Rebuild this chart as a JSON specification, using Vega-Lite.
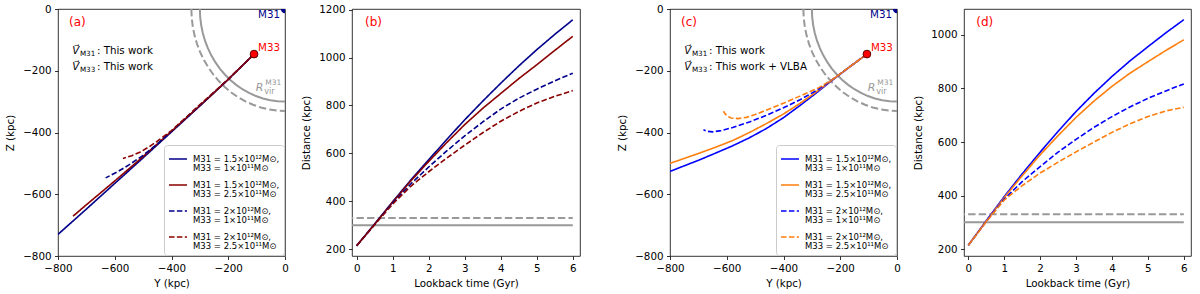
{
 "$schema": "https://vega.github.io/schema/vega-lite/v6.json",
 "padding": {"left": 5, "top": 3, "right": 2, "bottom": 2},
 "config": {
  "font": "DejaVu Sans",
  "view": {"stroke": "#000", "strokeWidth": 0.8},
  "axis": {"grid": false, "domain": false, "tickColor": "#000", "tickSize": 3.5, "tickWidth": 0.8, "labelFontSize": 10.3, "labelColor": "#000", "titleFontSize": 10.3, "titleFontWeight": "normal", "titleColor": "#000", "labelPadding": 3.5, "labelFont": "DejaVu Sans", "titleFont": "DejaVu Sans", "labelFlush": false, "labelOverlap": false, "format": "d"},
  "axisX": {"titlePadding": 5},
  "axisY": {"titlePadding": 7},
  "text": {"font": "DejaVu Sans"}
 },
 "datasets": {
  "circ": [
   {"R":300,"i":0,"Y":-300,"Z":0},{"R":300,"i":1,"Y":-298.9,"Z":-26.1},{"R":300,"i":2,"Y":-295.4,"Z":-52.1},{"R":300,"i":3,"Y":-289.8,"Z":-77.6},{"R":300,"i":4,"Y":-281.9,"Z":-102.6},{"R":300,"i":5,"Y":-271.9,"Z":-126.8},{"R":300,"i":6,"Y":-259.8,"Z":-150},{"R":300,"i":7,"Y":-245.7,"Z":-172.1},{"R":300,"i":8,"Y":-229.8,"Z":-192.8},{"R":300,"i":9,"Y":-212.1,"Z":-212.1},{"R":300,"i":10,"Y":-192.8,"Z":-229.8},{"R":300,"i":11,"Y":-172.1,"Z":-245.7},{"R":300,"i":12,"Y":-150,"Z":-259.8},{"R":300,"i":13,"Y":-126.8,"Z":-271.9},{"R":300,"i":14,"Y":-102.6,"Z":-281.9},{"R":300,"i":15,"Y":-77.6,"Z":-289.8},{"R":300,"i":16,"Y":-52.1,"Z":-295.4},{"R":300,"i":17,"Y":-26.1,"Z":-298.9},{"R":300,"i":18,"Y":0,"Z":-300},
   {"R":330,"i":0,"Y":-330,"Z":0},{"R":330,"i":1,"Y":-328.7,"Z":-28.8},{"R":330,"i":2,"Y":-325,"Z":-57.3},{"R":330,"i":3,"Y":-318.8,"Z":-85.4},{"R":330,"i":4,"Y":-310.1,"Z":-112.9},{"R":330,"i":5,"Y":-299.1,"Z":-139.5},{"R":330,"i":6,"Y":-285.8,"Z":-165},{"R":330,"i":7,"Y":-270.3,"Z":-189.3},{"R":330,"i":8,"Y":-252.8,"Z":-212.1},{"R":330,"i":9,"Y":-233.3,"Z":-233.3},{"R":330,"i":10,"Y":-212.1,"Z":-252.8},{"R":330,"i":11,"Y":-189.3,"Z":-270.3},{"R":330,"i":12,"Y":-165,"Z":-285.8},{"R":330,"i":13,"Y":-139.5,"Z":-299.1},{"R":330,"i":14,"Y":-112.9,"Z":-310.1},{"R":330,"i":15,"Y":-85.4,"Z":-318.8},{"R":330,"i":16,"Y":-57.3,"Z":-325},{"R":330,"i":17,"Y":-28.8,"Z":-328.7},{"R":330,"i":18,"Y":0,"Z":-330}
  ],
  "trajA": [
   {"s":"s1","i":0,"Y":-109,"Z":-146},{"s":"s1","i":1,"Y":-150,"Z":-183},{"s":"s1","i":2,"Y":-200,"Z":-228},{"s":"s1","i":3,"Y":-250,"Z":-271},{"s":"s1","i":4,"Y":-300,"Z":-314},{"s":"s1","i":5,"Y":-400,"Z":-398},{"s":"s1","i":6,"Y":-500,"Z":-482},{"s":"s1","i":7,"Y":-600,"Z":-565},{"s":"s1","i":8,"Y":-700,"Z":-648},{"s":"s1","i":9,"Y":-800,"Z":-730},
   {"s":"s2","i":0,"Y":-109,"Z":-146},{"s":"s2","i":1,"Y":-150,"Z":-183},{"s":"s2","i":2,"Y":-200,"Z":-228},{"s":"s2","i":3,"Y":-250,"Z":-271},{"s":"s2","i":4,"Y":-300,"Z":-313},{"s":"s2","i":5,"Y":-400,"Z":-396},{"s":"s2","i":6,"Y":-500,"Z":-478},{"s":"s2","i":7,"Y":-600,"Z":-557},{"s":"s2","i":8,"Y":-700,"Z":-634},{"s":"s2","i":9,"Y":-747,"Z":-671},
   {"s":"s3","i":0,"Y":-109,"Z":-146},{"s":"s3","i":1,"Y":-150,"Z":-183},{"s":"s3","i":2,"Y":-200,"Z":-228},{"s":"s3","i":3,"Y":-250,"Z":-270},{"s":"s3","i":4,"Y":-300,"Z":-312},{"s":"s3","i":5,"Y":-400,"Z":-396},{"s":"s3","i":6,"Y":-450,"Z":-437},{"s":"s3","i":7,"Y":-500,"Z":-474},{"s":"s3","i":8,"Y":-550,"Z":-505},{"s":"s3","i":9,"Y":-590,"Z":-527},{"s":"s3","i":10,"Y":-632,"Z":-547},
   {"s":"s4","i":0,"Y":-109,"Z":-146},{"s":"s4","i":1,"Y":-150,"Z":-183},{"s":"s4","i":2,"Y":-200,"Z":-227},{"s":"s4","i":3,"Y":-250,"Z":-269},{"s":"s4","i":4,"Y":-300,"Z":-310},{"s":"s4","i":5,"Y":-350,"Z":-352},{"s":"s4","i":6,"Y":-400,"Z":-394},{"s":"s4","i":7,"Y":-450,"Z":-428},{"s":"s4","i":8,"Y":-480,"Z":-447},{"s":"s4","i":9,"Y":-510,"Z":-463},{"s":"s4","i":10,"Y":-540,"Z":-475},{"s":"s4","i":11,"Y":-571,"Z":-484}
  ],
  "trajC": [
   {"s":"s1","i":0,"Y":-106,"Z":-146},{"s":"s1","i":1,"Y":-170,"Z":-190},{"s":"s1","i":2,"Y":-227,"Z":-230},{"s":"s1","i":3,"Y":-290,"Z":-276},{"s":"s1","i":4,"Y":-344,"Z":-314},{"s":"s1","i":5,"Y":-400,"Z":-352},{"s":"s1","i":6,"Y":-462,"Z":-388},{"s":"s1","i":7,"Y":-520,"Z":-417},{"s":"s1","i":8,"Y":-579,"Z":-443},{"s":"s1","i":9,"Y":-640,"Z":-467},{"s":"s1","i":10,"Y":-697,"Z":-489},{"s":"s1","i":11,"Y":-750,"Z":-508},{"s":"s1","i":12,"Y":-800,"Z":-526},
   {"s":"s2","i":0,"Y":-106,"Z":-146},{"s":"s2","i":1,"Y":-170,"Z":-190},{"s":"s2","i":2,"Y":-227,"Z":-229},{"s":"s2","i":3,"Y":-290,"Z":-272},{"s":"s2","i":4,"Y":-344,"Z":-307},{"s":"s2","i":5,"Y":-400,"Z":-340},{"s":"s2","i":6,"Y":-462,"Z":-372},{"s":"s2","i":7,"Y":-520,"Z":-400},{"s":"s2","i":8,"Y":-579,"Z":-426},{"s":"s2","i":9,"Y":-640,"Z":-448},{"s":"s2","i":10,"Y":-697,"Z":-467},{"s":"s2","i":11,"Y":-750,"Z":-484},{"s":"s2","i":12,"Y":-800,"Z":-500},
   {"s":"s3","i":0,"Y":-106,"Z":-146},{"s":"s3","i":1,"Y":-170,"Z":-189},{"s":"s3","i":2,"Y":-227,"Z":-228},{"s":"s3","i":3,"Y":-280,"Z":-262},{"s":"s3","i":4,"Y":-344,"Z":-295},{"s":"s3","i":5,"Y":-400,"Z":-320},{"s":"s3","i":6,"Y":-462,"Z":-345},{"s":"s3","i":7,"Y":-520,"Z":-366},{"s":"s3","i":8,"Y":-579,"Z":-384},{"s":"s3","i":9,"Y":-620,"Z":-394},{"s":"s3","i":10,"Y":-650,"Z":-398},{"s":"s3","i":11,"Y":-670,"Z":-396},{"s":"s3","i":12,"Y":-682,"Z":-391},
   {"s":"s4","i":0,"Y":-106,"Z":-146},{"s":"s4","i":1,"Y":-170,"Z":-189},{"s":"s4","i":2,"Y":-227,"Z":-228},{"s":"s4","i":3,"Y":-280,"Z":-257},{"s":"s4","i":4,"Y":-344,"Z":-283},{"s":"s4","i":5,"Y":-400,"Z":-305},{"s":"s4","i":6,"Y":-462,"Z":-328},{"s":"s4","i":7,"Y":-500,"Z":-342},{"s":"s4","i":8,"Y":-530,"Z":-351},{"s":"s4","i":9,"Y":-560,"Z":-355},{"s":"s4","i":10,"Y":-585,"Z":-353},{"s":"s4","i":11,"Y":-600,"Z":-346},{"s":"s4","i":12,"Y":-612,"Z":-331}
  ],
  "distB": [
   {"s":"s1","t":0,"d":214},{"s":"s1","t":0.5,"d":305},{"s":"s1","t":1,"d":398},{"s":"s1","t":1.5,"d":488},{"s":"s1","t":2,"d":573},{"s":"s1","t":2.5,"d":658},{"s":"s1","t":3,"d":740},{"s":"s1","t":3.5,"d":818},{"s":"s1","t":4,"d":893},{"s":"s1","t":4.5,"d":965},{"s":"s1","t":5,"d":1033},{"s":"s1","t":5.5,"d":1097},{"s":"s1","t":6,"d":1158},
   {"s":"s2","t":0,"d":214},{"s":"s2","t":0.5,"d":304},{"s":"s2","t":1,"d":396},{"s":"s2","t":1.5,"d":484},{"s":"s2","t":2,"d":566},{"s":"s2","t":2.5,"d":645},{"s":"s2","t":3,"d":720},{"s":"s2","t":3.5,"d":788},{"s":"s2","t":4,"d":850},{"s":"s2","t":4.5,"d":912},{"s":"s2","t":5,"d":970},{"s":"s2","t":5.5,"d":1030},{"s":"s2","t":6,"d":1089},
   {"s":"s3","t":0,"d":214},{"s":"s3","t":0.5,"d":303},{"s":"s3","t":1,"d":392},{"s":"s3","t":1.5,"d":472},{"s":"s3","t":2,"d":543},{"s":"s3","t":2.5,"d":610},{"s":"s3","t":3,"d":673},{"s":"s3","t":3.5,"d":731},{"s":"s3","t":4,"d":785},{"s":"s3","t":4.5,"d":830},{"s":"s3","t":5,"d":868},{"s":"s3","t":5.5,"d":903},{"s":"s3","t":6,"d":935},
   {"s":"s4","t":0,"d":214},{"s":"s4","t":0.5,"d":302},{"s":"s4","t":1,"d":388},{"s":"s4","t":1.5,"d":462},{"s":"s4","t":2,"d":523},{"s":"s4","t":2.5,"d":580},{"s":"s4","t":3,"d":634},{"s":"s4","t":3.5,"d":686},{"s":"s4","t":4,"d":734},{"s":"s4","t":4.5,"d":775},{"s":"s4","t":5,"d":810},{"s":"s4","t":5.5,"d":838},{"s":"s4","t":6,"d":862}
  ],
  "distD": [
   {"s":"s1","t":0,"d":214},{"s":"s1","t":0.5,"d":306},{"s":"s1","t":1,"d":396},{"s":"s1","t":1.5,"d":481},{"s":"s1","t":2,"d":562},{"s":"s1","t":2.5,"d":640},{"s":"s1","t":3,"d":714},{"s":"s1","t":3.5,"d":782},{"s":"s1","t":4,"d":845},{"s":"s1","t":4.5,"d":903},{"s":"s1","t":5,"d":956},{"s":"s1","t":5.5,"d":1008},{"s":"s1","t":6,"d":1057},
   {"s":"s2","t":0,"d":214},{"s":"s2","t":0.5,"d":304},{"s":"s2","t":1,"d":392},{"s":"s2","t":1.5,"d":474},{"s":"s2","t":2,"d":552},{"s":"s2","t":2.5,"d":624},{"s":"s2","t":3,"d":692},{"s":"s2","t":3.5,"d":753},{"s":"s2","t":4,"d":808},{"s":"s2","t":4.5,"d":857},{"s":"s2","t":5,"d":900},{"s":"s2","t":5.5,"d":942},{"s":"s2","t":6,"d":982},
   {"s":"s3","t":0,"d":214},{"s":"s3","t":0.5,"d":303},{"s":"s3","t":1,"d":387},{"s":"s3","t":1.5,"d":452},{"s":"s3","t":2,"d":508},{"s":"s3","t":2.5,"d":562},{"s":"s3","t":3,"d":610},{"s":"s3","t":3.5,"d":655},{"s":"s3","t":4,"d":695},{"s":"s3","t":4.5,"d":731},{"s":"s3","t":5,"d":763},{"s":"s3","t":5.5,"d":791},{"s":"s3","t":6,"d":817},
   {"s":"s4","t":0,"d":214},{"s":"s4","t":0.5,"d":302},{"s":"s4","t":1,"d":383},{"s":"s4","t":1.5,"d":437},{"s":"s4","t":2,"d":484},{"s":"s4","t":2.5,"d":525},{"s":"s4","t":3,"d":563},{"s":"s4","t":3.5,"d":600},{"s":"s4","t":4,"d":636},{"s":"s4","t":4.5,"d":668},{"s":"s4","t":5,"d":695},{"s":"s4","t":5.5,"d":716},{"s":"s4","t":6,"d":730}
  ],
  "grey": [
   {"k":"solid","t":-0.3,"d":300},{"k":"solid","t":6,"d":300},{"k":"dashed","t":-0.3,"d":330},{"k":"dashed","t":6,"d":330}
  ]
 },
 "resolve": {"scale": {"color": "independent", "strokeDash": "independent"}},
 "spacing": 36,
 "hconcat": [
  {
   "hconcat": [
    {
     "width": 227, "height": 247,
     "encoding": {
      "x": {"field": "Y", "type": "quantitative", "scale": {"domain": [-800, 0], "nice": false, "zero": false}, "axis": {"title": "Y (kpc)", "values": [-800, -600, -400, -200, 0]}},
      "y": {"field": "Z", "type": "quantitative", "scale": {"domain": [-800, 0], "nice": false, "zero": false}, "axis": {"title": "Z (kpc)", "values": [-800, -600, -400, -200, 0]}}
     },
     "layer": [
      {"data": {"name": "circ"}, "transform": [{"filter": "datum.R == 300"}], "mark": {"type": "line", "color": "#999999", "strokeWidth": 2, "clip": true}, "encoding": {"order": {"field": "i", "type": "quantitative"}}},
      {"data": {"name": "circ"}, "transform": [{"filter": "datum.R == 330"}], "mark": {"type": "line", "color": "#999999", "strokeWidth": 2, "strokeDash": [7.4, 3.2], "clip": true}, "encoding": {"order": {"field": "i", "type": "quantitative"}}},
      {"data": {"name": "trajA"}, "mark": {"type": "line", "strokeWidth": 1.6, "clip": true},
       "encoding": {
        "order": {"field": "i", "type": "quantitative"},
        "color": {"field": "s", "type": "nominal", "scale": {"domain": ["s1", "s2", "s3", "s4"], "range": ["#00008B", "#8B0000", "#00008B", "#8B0000"]},
         "legend": {"title": null, "orient": "bottom-right", "offset": 1, "symbolType": "stroke", "symbolSize": 324, "symbolStrokeWidth": 1.6, "labelFontSize": 8.5, "labelFont": "DejaVu Sans", "labelColor": "#000", "labelOffset": 5, "padding": 4, "rowPadding": 2, "strokeColor": "#cccccc", "fillColor": "rgba(255,255,255,0.85)", "cornerRadius": 3,
          "labelExpr": "datum.label == 's1' ? ['M31 = 1.5×10¹²M⊙,', 'M33 = 1×10¹¹M⊙'] : datum.label == 's2' ? ['M31 = 1.5×10¹²M⊙,', 'M33 = 2.5×10¹¹M⊙'] : datum.label == 's3' ? ['M31 = 2×10¹²M⊙,', 'M33 = 1×10¹¹M⊙'] : ['M31 = 2×10¹²M⊙,', 'M33 = 2.5×10¹¹M⊙']",
          "encode": {"labels": {"update": {"lineHeight": {"value": 9.3}}}}}},
        "strokeDash": {"field": "s", "type": "nominal", "scale": {"domain": ["s1", "s2", "s3", "s4"], "range": [[1, 0], [1, 0], [5.5, 2.4], [5.5, 2.4]]},
         "legend": {"title": null, "orient": "bottom-right", "offset": 1, "symbolType": "stroke", "symbolSize": 324, "symbolStrokeWidth": 1.6, "labelFontSize": 8.5, "labelFont": "DejaVu Sans", "labelColor": "#000", "labelOffset": 5, "padding": 4, "rowPadding": 2, "strokeColor": "#cccccc", "fillColor": "rgba(255,255,255,0.85)", "cornerRadius": 3,
          "labelExpr": "datum.label == 's1' ? ['M31 = 1.5×10¹²M⊙,', 'M33 = 1×10¹¹M⊙'] : datum.label == 's2' ? ['M31 = 1.5×10¹²M⊙,', 'M33 = 2.5×10¹¹M⊙'] : datum.label == 's3' ? ['M31 = 2×10¹²M⊙,', 'M33 = 1×10¹¹M⊙'] : ['M31 = 2×10¹²M⊙,', 'M33 = 2.5×10¹¹M⊙']",
          "encode": {"labels": {"update": {"lineHeight": {"value": 9.3}}}}}}
       }},
      {"data": {"values": [{"Y": 0, "Z": 0}]}, "mark": {"type": "point", "filled": true, "clip": true, "size": 70, "color": "#00008B", "opacity": 1}},
      {"data": {"values": [{"Y": -109, "Z": -146}]}, "mark": {"type": "point", "filled": true, "size": 60, "fill": "#FF0000", "stroke": "#5a0000", "strokeWidth": 1, "opacity": 1}},
      {"data": {"values": [{"Y": 0, "Z": 0, "txt": "M31"}]}, "mark": {"type": "text", "align": "right", "baseline": "middle", "dx": -5, "dy": 6, "fontSize": 10.3, "color": "#00008B"}, "encoding": {"text": {"field": "txt"}}},
      {"data": {"values": [{"Y": -109, "Z": -146, "txt": "M33"}]}, "mark": {"type": "text", "align": "left", "baseline": "middle", "dx": 4, "dy": -6, "fontSize": 10.3, "color": "#FF0000"}, "encoding": {"text": {"field": "txt"}}},
      {"data": {"values": [{"Y": -761, "Z": -43, "txt": "(a)"}]}, "mark": {"type": "text", "align": "left", "baseline": "middle", "fontSize": 12, "color": "#FF0000"}, "encoding": {"text": {"field": "txt"}}},
      {"data": {"values": [{"Y": -750, "Z": -136, "txt": "V⃗"}, {"Y": -750, "Z": -189, "txt": "V⃗"}]}, "mark": {"type": "text", "align": "left", "baseline": "middle", "fontSize": 10.3, "fontStyle": "italic", "color": "#000"}, "encoding": {"text": {"field": "txt"}}},
      {"data": {"values": [{"Y": -750, "Z": -136, "txt": "M31"}, {"Y": -750, "Z": -189, "txt": "M33"}]}, "mark": {"type": "text", "align": "left", "baseline": "middle", "dx": 7.7, "dy": 3, "fontSize": 7.2, "color": "#000"}, "encoding": {"text": {"field": "txt"}}},
      {"data": {"values": [{"Y": -750, "Z": -136, "txt": ": This work"}, {"Y": -750, "Z": -189, "txt": ": This work"}]}, "mark": {"type": "text", "align": "left", "baseline": "middle", "dx": 24.7, "fontSize": 10.3, "color": "#000"}, "encoding": {"text": {"field": "txt"}}},
      {"data": {"values": [{"Y": -103, "Z": -257, "txt": "R"}]}, "mark": {"type": "text", "align": "left", "baseline": "middle", "fontSize": 11, "fontStyle": "italic", "color": "#999999"}, "encoding": {"text": {"field": "txt"}}},
      {"data": {"values": [{"Y": -103, "Z": -257, "txt": "vir"}]}, "mark": {"type": "text", "align": "left", "baseline": "middle", "dx": 8.5, "dy": 3.5, "fontSize": 8, "color": "#999999"}, "encoding": {"text": {"field": "txt"}}},
      {"data": {"values": [{"Y": -103, "Z": -257, "txt": "M31"}]}, "mark": {"type": "text", "align": "left", "baseline": "middle", "dx": 9.5, "dy": -5.5, "fontSize": 7.5, "color": "#999999"}, "encoding": {"text": {"field": "txt"}}}
     ]
    },
    {
     "width": 228, "height": 247,
     "encoding": {
      "x": {"field": "t", "type": "quantitative", "scale": {"domain": [-0.13, 6.2], "nice": false, "zero": false}, "axis": {"title": "Lookback time (Gyr)", "values": [0, 1, 2, 3, 4, 5, 6]}},
      "y": {"field": "d", "type": "quantitative", "scale": {"domain": [171, 1203], "nice": false, "zero": false}, "axis": {"title": "Distance (kpc)", "values": [200, 400, 600, 800, 1000, 1200]}}
     },
     "layer": [
      {"data": {"name": "grey"}, "transform": [{"filter": "datum.k == 'solid'"}], "mark": {"type": "line", "color": "#999999", "strokeWidth": 2, "clip": true}},
      {"data": {"name": "grey"}, "transform": [{"filter": "datum.k == 'dashed'"}], "mark": {"type": "line", "color": "#999999", "strokeWidth": 2, "strokeDash": [7.4, 3.2], "clip": true}},
      {"data": {"name": "distB"}, "mark": {"type": "line", "strokeWidth": 1.6, "clip": true},
       "encoding": {
        "color": {"field": "s", "type": "nominal", "scale": {"domain": ["s1", "s2", "s3", "s4"], "range": ["#00008B", "#8B0000", "#00008B", "#8B0000"]}, "legend": null},
        "strokeDash": {"field": "s", "type": "nominal", "scale": {"domain": ["s1", "s2", "s3", "s4"], "range": [[1, 0], [1, 0], [5.5, 2.4], [5.5, 2.4]]}, "legend": null}
       }},
      {"data": {"values": [{"t": 0.23, "d": 1147, "txt": "(b)"}]}, "mark": {"type": "text", "align": "left", "baseline": "middle", "fontSize": 12, "color": "#FF0000"}, "encoding": {"text": {"field": "txt"}}}
     ]
    }
   ],
   "spacing": 67,
   "bounds": "flush",
   "resolve": {"scale": {"color": "independent", "strokeDash": "independent"}}
  },
  {
   "hconcat": [
    {
     "width": 227, "height": 247,
     "encoding": {
      "x": {"field": "Y", "type": "quantitative", "scale": {"domain": [-800, 0], "nice": false, "zero": false}, "axis": {"title": "Y (kpc)", "values": [-800, -600, -400, -200, 0]}},
      "y": {"field": "Z", "type": "quantitative", "scale": {"domain": [-800, 0], "nice": false, "zero": false}, "axis": {"title": "Z (kpc)", "values": [-800, -600, -400, -200, 0]}}
     },
     "layer": [
      {"data": {"name": "circ"}, "transform": [{"filter": "datum.R == 300"}], "mark": {"type": "line", "color": "#999999", "strokeWidth": 2, "clip": true}, "encoding": {"order": {"field": "i", "type": "quantitative"}}},
      {"data": {"name": "circ"}, "transform": [{"filter": "datum.R == 330"}], "mark": {"type": "line", "color": "#999999", "strokeWidth": 2, "strokeDash": [7.4, 3.2], "clip": true}, "encoding": {"order": {"field": "i", "type": "quantitative"}}},
      {"data": {"name": "trajC"}, "mark": {"type": "line", "strokeWidth": 1.6, "clip": true},
       "encoding": {
        "order": {"field": "i", "type": "quantitative"},
        "color": {"field": "s", "type": "nominal", "scale": {"domain": ["s1", "s2", "s3", "s4"], "range": ["#0000FF", "#FF7F0E", "#0000FF", "#FF7F0E"]},
         "legend": {"title": null, "orient": "bottom-right", "offset": 1, "symbolType": "stroke", "symbolSize": 324, "symbolStrokeWidth": 1.6, "labelFontSize": 8.5, "labelFont": "DejaVu Sans", "labelColor": "#000", "labelOffset": 5, "padding": 4, "rowPadding": 2, "strokeColor": "#cccccc", "fillColor": "rgba(255,255,255,0.85)", "cornerRadius": 3,
          "labelExpr": "datum.label == 's1' ? ['M31 = 1.5×10¹²M⊙,', 'M33 = 1×10¹¹M⊙'] : datum.label == 's2' ? ['M31 = 1.5×10¹²M⊙,', 'M33 = 2.5×10¹¹M⊙'] : datum.label == 's3' ? ['M31 = 2×10¹²M⊙,', 'M33 = 1×10¹¹M⊙'] : ['M31 = 2×10¹²M⊙,', 'M33 = 2.5×10¹¹M⊙']",
          "encode": {"labels": {"update": {"lineHeight": {"value": 9.3}}}}}},
        "strokeDash": {"field": "s", "type": "nominal", "scale": {"domain": ["s1", "s2", "s3", "s4"], "range": [[1, 0], [1, 0], [5.5, 2.4], [5.5, 2.4]]},
         "legend": {"title": null, "orient": "bottom-right", "offset": 1, "symbolType": "stroke", "symbolSize": 324, "symbolStrokeWidth": 1.6, "labelFontSize": 8.5, "labelFont": "DejaVu Sans", "labelColor": "#000", "labelOffset": 5, "padding": 4, "rowPadding": 2, "strokeColor": "#cccccc", "fillColor": "rgba(255,255,255,0.85)", "cornerRadius": 3,
          "labelExpr": "datum.label == 's1' ? ['M31 = 1.5×10¹²M⊙,', 'M33 = 1×10¹¹M⊙'] : datum.label == 's2' ? ['M31 = 1.5×10¹²M⊙,', 'M33 = 2.5×10¹¹M⊙'] : datum.label == 's3' ? ['M31 = 2×10¹²M⊙,', 'M33 = 1×10¹¹M⊙'] : ['M31 = 2×10¹²M⊙,', 'M33 = 2.5×10¹¹M⊙']",
          "encode": {"labels": {"update": {"lineHeight": {"value": 9.3}}}}}}
       }},
      {"data": {"values": [{"Y": 0, "Z": 0}]}, "mark": {"type": "point", "filled": true, "clip": true, "size": 70, "color": "#00008B", "opacity": 1}},
      {"data": {"values": [{"Y": -106, "Z": -146}]}, "mark": {"type": "point", "filled": true, "size": 60, "fill": "#FF0000", "stroke": "#5a0000", "strokeWidth": 1, "opacity": 1}},
      {"data": {"values": [{"Y": 0, "Z": 0, "txt": "M31"}]}, "mark": {"type": "text", "align": "right", "baseline": "middle", "dx": -5, "dy": 6, "fontSize": 10.3, "color": "#00008B"}, "encoding": {"text": {"field": "txt"}}},
      {"data": {"values": [{"Y": -106, "Z": -146, "txt": "M33"}]}, "mark": {"type": "text", "align": "left", "baseline": "middle", "dx": 4, "dy": -6, "fontSize": 10.3, "color": "#FF0000"}, "encoding": {"text": {"field": "txt"}}},
      {"data": {"values": [{"Y": -761, "Z": -43, "txt": "(c)"}]}, "mark": {"type": "text", "align": "left", "baseline": "middle", "fontSize": 12, "color": "#FF0000"}, "encoding": {"text": {"field": "txt"}}},
      {"data": {"values": [{"Y": -750, "Z": -136, "txt": "V⃗"}, {"Y": -750, "Z": -189, "txt": "V⃗"}]}, "mark": {"type": "text", "align": "left", "baseline": "middle", "fontSize": 10.3, "fontStyle": "italic", "color": "#000"}, "encoding": {"text": {"field": "txt"}}},
      {"data": {"values": [{"Y": -750, "Z": -136, "txt": "M31"}, {"Y": -750, "Z": -189, "txt": "M33"}]}, "mark": {"type": "text", "align": "left", "baseline": "middle", "dx": 7.7, "dy": 3, "fontSize": 7.2, "color": "#000"}, "encoding": {"text": {"field": "txt"}}},
      {"data": {"values": [{"Y": -750, "Z": -136, "txt": ": This work"}, {"Y": -750, "Z": -189, "txt": ": This work + VLBA"}]}, "mark": {"type": "text", "align": "left", "baseline": "middle", "dx": 24.7, "fontSize": 10.3, "color": "#000"}, "encoding": {"text": {"field": "txt"}}},
      {"data": {"values": [{"Y": -103, "Z": -257, "txt": "R"}]}, "mark": {"type": "text", "align": "left", "baseline": "middle", "fontSize": 11, "fontStyle": "italic", "color": "#999999"}, "encoding": {"text": {"field": "txt"}}},
      {"data": {"values": [{"Y": -103, "Z": -257, "txt": "vir"}]}, "mark": {"type": "text", "align": "left", "baseline": "middle", "dx": 8.5, "dy": 3.5, "fontSize": 8, "color": "#999999"}, "encoding": {"text": {"field": "txt"}}},
      {"data": {"values": [{"Y": -103, "Z": -257, "txt": "M31"}]}, "mark": {"type": "text", "align": "left", "baseline": "middle", "dx": 9.5, "dy": -5.5, "fontSize": 7.5, "color": "#999999"}, "encoding": {"text": {"field": "txt"}}}
     ]
    },
    {
     "width": 227, "height": 247,
     "encoding": {
      "x": {"field": "t", "type": "quantitative", "scale": {"domain": [-0.12, 6.2], "nice": false, "zero": false}, "axis": {"title": "Lookback time (Gyr)", "values": [0, 1, 2, 3, 4, 5, 6]}},
      "y": {"field": "d", "type": "quantitative", "scale": {"domain": [174, 1097], "nice": false, "zero": false}, "axis": {"title": "Distance (kpc)", "values": [200, 400, 600, 800, 1000]}}
     },
     "layer": [
      {"data": {"name": "grey"}, "transform": [{"filter": "datum.k == 'solid'"}], "mark": {"type": "line", "color": "#999999", "strokeWidth": 2, "clip": true}},
      {"data": {"name": "grey"}, "transform": [{"filter": "datum.k == 'dashed'"}], "mark": {"type": "line", "color": "#999999", "strokeWidth": 2, "strokeDash": [7.4, 3.2], "clip": true}},
      {"data": {"name": "distD"}, "mark": {"type": "line", "strokeWidth": 1.6, "clip": true},
       "encoding": {
        "color": {"field": "s", "type": "nominal", "scale": {"domain": ["s1", "s2", "s3", "s4"], "range": ["#0000FF", "#FF7F0E", "#0000FF", "#FF7F0E"]}, "legend": null},
        "strokeDash": {"field": "s", "type": "nominal", "scale": {"domain": ["s1", "s2", "s3", "s4"], "range": [[1, 0], [1, 0], [5.5, 2.4], [5.5, 2.4]]}, "legend": null}
       }},
      {"data": {"values": [{"t": 0.22, "d": 1047, "txt": "(d)"}]}, "mark": {"type": "text", "align": "left", "baseline": "middle", "fontSize": 12, "color": "#FF0000"}, "encoding": {"text": {"field": "txt"}}}
     ]
    }
   ],
   "spacing": 67,
   "bounds": "flush",
   "resolve": {"scale": {"color": "independent", "strokeDash": "independent"}}
  }
 ]
}
